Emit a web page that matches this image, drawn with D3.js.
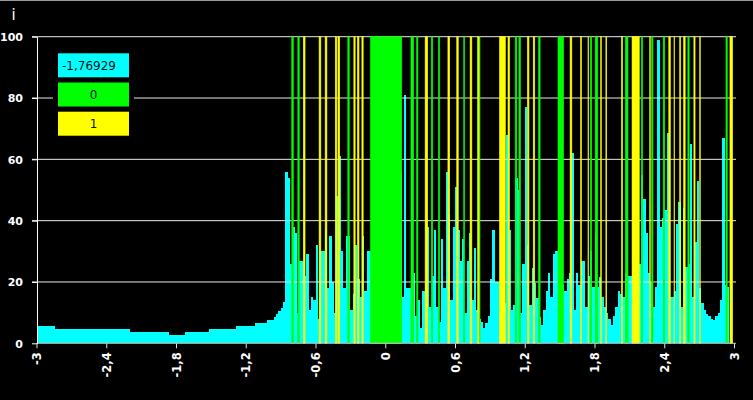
<!DOCTYPE html>
<html><head><meta charset="utf-8">
<script src="https://cdn.jsdelivr.net/npm/d3@7"></script>
<style>html,body{margin:0;padding:0;background:#000;}svg{display:block;}</style>
</head><body>
<svg id="chart" width="753" height="400"></svg>
<script>
// ---- data ----
const xTicks = [-3, -2.4, -1.8, -1.2, -0.6, 0, 0.6, 1.2, 1.8, 2.4, 3];
const yTicks = [0, 20, 40, 60, 80, 100];
const yTitle = "i";
const legendLabels = ["-1,76929", "0", "1"];
const legendColors = ["#00ffff", "#00ff00", "#ffff00"];

// cyan series: one value per bin of 0.02 starting at -3
const cyanStart = -3;
const cyanStep = 0.02;
const cyanValues = [
  5.6,5.6,5.6,5.6,5.6,5.6,5.6,5.6,
  4.6,4.6,4.6,4.6,4.6,4.6,4.6,4.6,4.6,4.6,4.6,4.6,4.6,4.6,4.6,4.6,4.6,4.6,4.6,4.6,4.6,4.6,4.6,4.6,4.6,4.6,4.6,4.6,4.6,4.6,4.6,4.6,
  3.6,3.6,3.6,3.6,3.6,3.6,3.6,3.6,3.6,3.6,3.6,3.6,3.6,3.6,3.6,3.6,3.6,
  2.6,2.6,2.6,2.6,2.6,2.6,2.6,
  3.6,3.6,3.6,3.6,3.6,3.6,3.6,3.6,3.6,3.6,
  4.6,4.6,4.6,4.6,4.6,4.6,4.6,4.6,4.6,4.6,4.6,4.6,
  5.6,5.6,5.6,5.6,5.6,5.6,5.6,5.6,
  6.6,6.6,6.6,6.6,6.6,
  7.7,7.7,7.7,
  8.6,9.6,10.4,11.5,13.6,
  56,54,26,38,36,10,27,27,22,29,11,15,14,32,8,30,30,37,18,35,20,10,48,61,30,18,35,35,11,16,32,21,15,35,17,
  30,30,30,30,30,30,30,30,30,30,30,30,30,
  30,56,15,81,18,18,23,23,9,14,5,17,20,38,12,22,37,
  12,7,34,18,56,42,14,38,51,37,27,34,10,27,36,14,31,11,8,7,5,6.5,9,21,37,20,20,20,51,13,68,37,11,
  12.5,54,50,10,26,77,32,12.5,24.5,19.6,14.7,8.5,6,11,17,22.8,15,29,30,30,30,19,17,21,23,62,11,23,19,27,27,12,22,30,
  18.5,36,18.5,21.5,15,12,10,8,6,9,12,17,16,15,22.8,22,22,22,21,17,26,55,47,36,23,20,12,18.5,99,38,41,43.5,68.7,
  15,15,17,39,46,12,44,25,26,65,15,33,53,18,13,11,9.5,8.9,8,7.6,9,10,14,67,19,18.5
];

// full-height marks, [x0, x1]
const greenBands = [
  [-0.804,-0.791],[-0.752,-0.740],[-0.322,-0.310],[-0.127,0.142],[0.221,0.244],
  [0.270,0.281],[0.396,0.408],[0.457,0.468],[0.675,0.683],[0.806,0.815],
  [1.118,1.131],[1.150,1.163],[1.319,1.332],[1.486,1.534],[1.764,1.776],
  [1.806,1.828],[2.066,2.088],[2.203,2.214],[2.292,2.303],[2.391,2.404],
  [2.603,2.614],[2.931,2.942]
];
const yellowBands = [
  [-0.705,-0.690],[-0.569,-0.554],[-0.517,-0.502],[-0.430,-0.417],[-0.407,-0.392],
  [-0.270,-0.259],[-0.239,-0.226],[-0.201,-0.190],[0.343,0.365],[0.539,0.554],
  [0.615,0.628],[0.730,0.745],[0.795,0.806],[0.983,1.033],[1.056,1.069],
  [1.223,1.236],[1.273,1.286],[1.590,1.605],[1.680,1.688],[1.744,1.749],
  [1.853,1.859],[1.898,1.905],[2.032,2.041],[2.123,2.185],[2.275,2.280],
  [2.439,2.452],[2.484,2.489],[2.533,2.541],[2.567,2.580],[2.655,2.665],
  [2.705,2.710],[2.965,2.988]
];

// ---- chart ----
const svg = d3.select("#chart");
const W = 753, H = 400;
const x = d3.scaleLinear().domain([-3, 3]).range([36.5, 734]);
const y = d3.scaleLinear().domain([0, 100]).range([343.3, 36.7]);
const fmt = d => String(d).replace(".", ",");
const FONT = "'DejaVu Sans', Verdana, sans-serif";

svg.append("rect").attr("width", W).attr("height", H).attr("fill", "#000");
svg.append("rect").attr("width", W).attr("height", 1).attr("fill", "#9a9a9a");

// cyan bars
svg.append("g").attr("shape-rendering", "crispEdges")
  .selectAll("rect").data(cyanValues).join("rect")
  .attr("x", (d, i) => x(cyanStart + i * cyanStep))
  .attr("width", (d, i) => x(cyanStart + (i + 1) * cyanStep) - x(cyanStart + i * cyanStep) + 0.01)
  .attr("y", d => y(d))
  .attr("height", d => y(0) - y(d))
  .attr("fill", "#00ffff");

// gridlines
svg.append("g").selectAll("line").data(yTicks.filter(t => t > 0)).join("line")
  .attr("x1", 32).attr("x2", 736)
  .attr("y1", d => y(d)).attr("y2", d => y(d))
  .attr("stroke", "#ececec").attr("stroke-width", 1);

// green & yellow full-height marks
function bands(data, color) {
  svg.append("g").selectAll("rect").data(data).join("rect")
    .attr("x", d => x(d[0]))
    .attr("width", d => x(d[1]) - x(d[0]))
    .attr("y", y(100))
    .attr("height", y(0) - y(100))
    .attr("fill", color)
    .attr("stroke", color).attr("stroke-width", 0.6);
}
bands(greenBands, "#00ff00");
bands(yellowBands, "#ffff00");

// axes
const xAxis = svg.append("g").attr("transform", `translate(0,${y(0)})`)
  .call(d3.axisBottom(x).tickValues(xTicks).tickSize(5).tickSizeOuter(0).tickFormat(fmt));
xAxis.select(".domain").remove();
xAxis.selectAll(".tick line").attr("stroke", "#e0e0e0");
xAxis.selectAll(".tick text")
  .attr("transform", "rotate(-90)")
  .attr("x", -9).attr("y", 0).attr("dy", "0.36em")
  .attr("text-anchor", "end")
  .attr("fill", "#fff")
  .style("font-family", FONT).style("font-size", "11.5px").style("font-weight", "bold");

svg.append("line").attr("x1", 37).attr("x2", 736).attr("y1", y(0)).attr("y2", y(0))
  .attr("stroke", "#c8c8c8");

const yAxis = svg.append("g").attr("transform", "translate(37,0)")
  .call(d3.axisLeft(y).tickValues(yTicks).tickSize(5).tickSizeOuter(0).tickFormat(d3.format("d")));
yAxis.select(".domain").attr("stroke", "#fff");
yAxis.selectAll(".tick line").attr("stroke", "#fff");
yAxis.selectAll(".tick text")
  .attr("x", -14).attr("dy", "0.36em")
  .attr("fill", "#fff")
  .style("font-family", FONT).style("font-size", "11px").style("font-weight", "bold");

svg.append("text").attr("x", 13.5).attr("y", 20).attr("text-anchor", "middle")
  .attr("fill", "#fff").style("font-family", FONT).style("font-size", "15px")
  .text(yTitle);

// legend
const lg = svg.append("g");
lg.append("rect").attr("x", 53).attr("y", 48).attr("width", 81).attr("height", 93).attr("fill", "#000");
const items = lg.selectAll("g").data(legendLabels).join("g")
  .attr("transform", (d, i) => `translate(58,${53.3 + i * 29.2})`);
items.append("rect").attr("width", 71).attr("height", 24)
  .attr("fill", (d, i) => legendColors[i]);
items.append("text")
  .attr("x", (d, i) => i === 0 ? 4 : 35.5)
  .attr("y", 12).attr("dy", "0.36em")
  .attr("text-anchor", (d, i) => i === 0 ? "start" : "middle")
  .attr("fill", "#111")
  .style("font-family", FONT).style("font-size", "12px")
  .text(d => d);
</script>
</body></html>
